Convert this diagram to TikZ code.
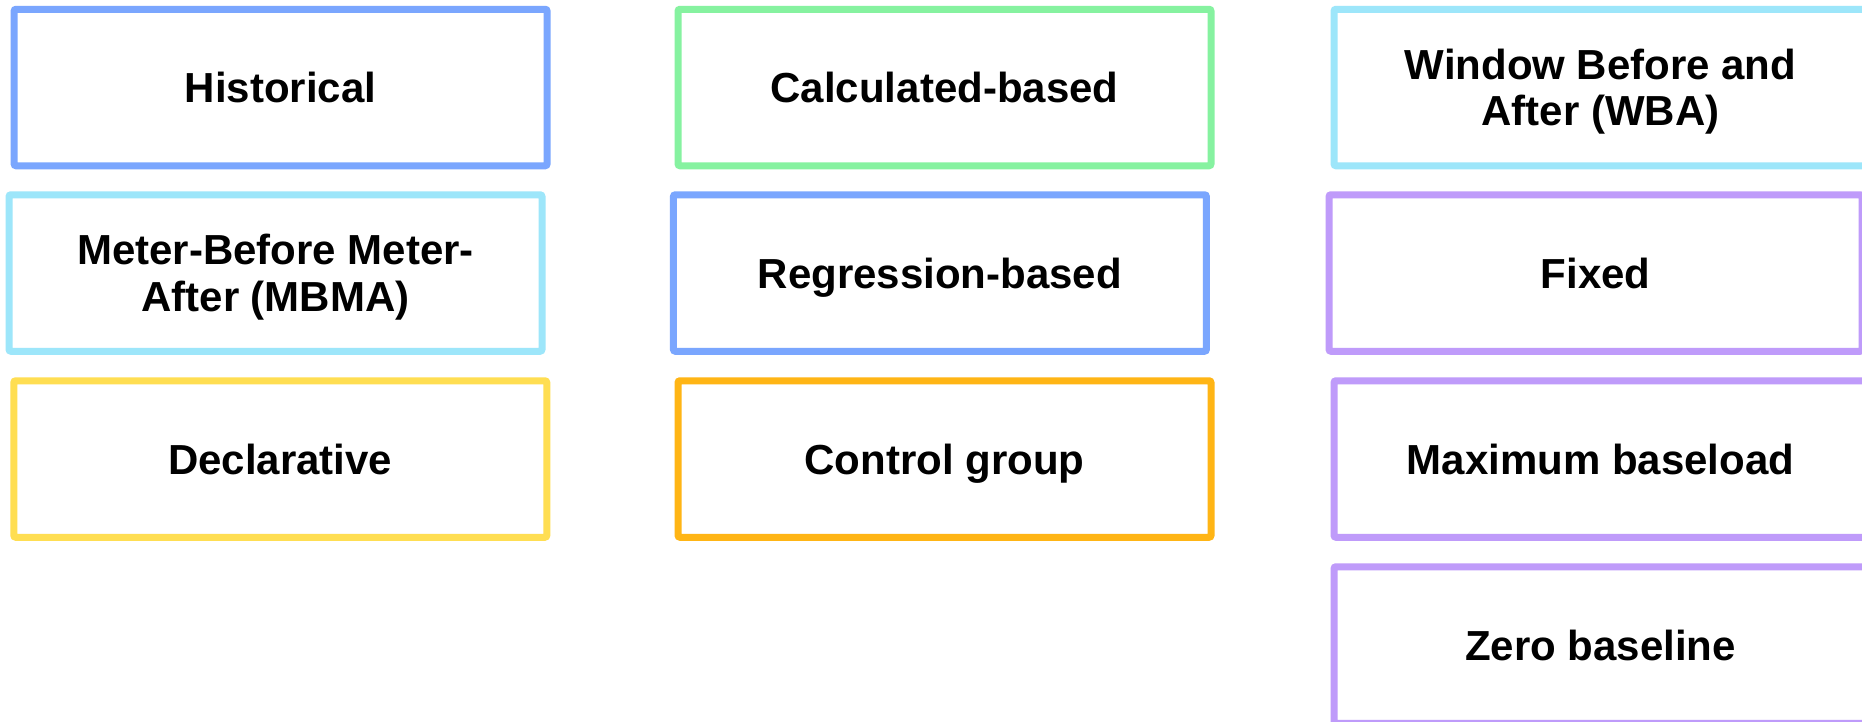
\documentclass[tikz,border=0pt]{standalone}
\usepackage{fontspec}
\setmainfont{Liberation Sans}
\definecolor{cblue}{HTML}{7AA6FE}
\definecolor{ccyan}{HTML}{9DE6FA}
\definecolor{cyellow}{HTML}{FFDE52}
\definecolor{cgreen}{HTML}{86F2A0}
\definecolor{corange}{HTML}{FFB515}
\definecolor{cpurple}{HTML}{BF9BFA}
\tikzset{
  catbox/.style={draw=#1, line width=7pt, rounded corners=2pt, fill=white,
    minimum width=533pt, minimum height=156.5pt, inner sep=0pt,
    align=center, font=\fontsize{42}{46.5}\selectfont\bfseries,
    text height=30pt, text depth=0pt},
  twoline/.style={text height=76.5pt, text depth=0pt},
}
\begin{document}
\begin{tikzpicture}[x=1pt,y=-1pt]
\useasboundingbox (0,0) rectangle (1862,721);
\clip (0,0) rectangle (1862,721);
\fill[white] (0,0) rectangle (1862,721);
% column 1
\node[catbox=cblue]   (hist) at (280.6,87.5) {Historical};
\node[catbox=ccyan,twoline] (mbma) at (275.5,273) {Meter-Before Meter-\\After (MBMA)};
\node[catbox=cyellow] (decl) at (280.3,459) {Declarative};
% column 2
\node[catbox=cgreen]  (calc) at (944.5,87.5) {Calculated-based};
\node[catbox=cblue]   (regr) at (939.9,273) {Regression-based};
\node[catbox=corange] (ctrl) at (944.5,459) {Control group};
% column 3
\node[catbox=ccyan,twoline] (wba) at (1600.5,87.5) {Window Before and\\After (WBA)};
\node[catbox=cpurple] (fixd) at (1595.5,273) {Fixed};
\node[catbox=cpurple] (maxb) at (1600.5,459) {Maximum baseload};
\node[catbox=cpurple] (zero) at (1600.5,645) {Zero baseline};
\end{tikzpicture}
\end{document}
